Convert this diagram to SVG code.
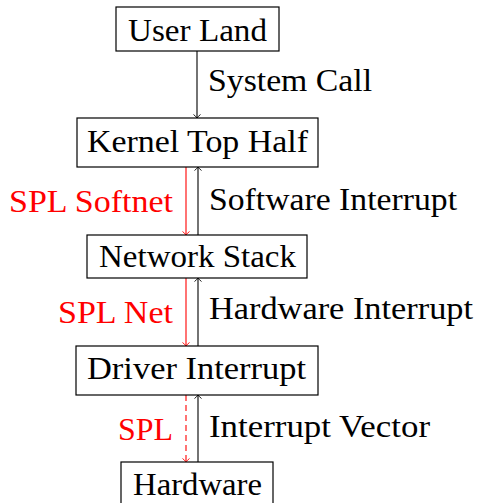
<svg xmlns="http://www.w3.org/2000/svg" width="477" height="503" viewBox="0 0 477 503">
<defs>
<marker id="ak" markerWidth="10" markerHeight="10" refX="5" refY="5" orient="auto" markerUnits="userSpaceOnUse">
<path d="M1.5,1.5 Q3.5,4 5,5 Q3.5,6 1.5,8.5" fill="none" stroke="#000" stroke-width="0.9"/>
</marker>
<marker id="ar" markerWidth="10" markerHeight="10" refX="5" refY="5" orient="auto" markerUnits="userSpaceOnUse">
<path d="M1.5,1.5 Q3.5,4 5,5 Q3.5,6 1.5,8.5" fill="none" stroke="#ff0000" stroke-width="0.9"/>
</marker>
</defs>
<g id="connectors" fill="none" stroke-width="1.1">
<line stroke="#000" x1="197" y1="51" x2="197" y2="118" marker-end="url(#ak)"/>
<line stroke="#ff0000" x1="186" y1="167" x2="186" y2="235" marker-end="url(#ar)"/>
<line stroke="#000" x1="198" y1="235" x2="198" y2="167" marker-end="url(#ak)"/>
<line stroke="#ff0000" x1="186" y1="278" x2="186" y2="346" marker-end="url(#ar)"/>
<line stroke="#000" x1="198" y1="346" x2="198" y2="278" marker-end="url(#ak)"/>
<line stroke="#ff0000" stroke-dasharray="6 4" x1="186" y1="395" x2="186" y2="462" marker-end="url(#ar)"/>
<line stroke="#000" x1="198" y1="462" x2="198" y2="395" marker-end="url(#ak)"/>
</g>
<g id="labels" stroke="none">
<text fill="#000" font-family="Liberation Serif" font-size="32" x="208" y="91" textLength="164" lengthAdjust="spacingAndGlyphs">System Call</text>
<text fill="#ff0000" font-family="Liberation Serif" font-size="32" x="9" y="212" textLength="164" lengthAdjust="spacingAndGlyphs">SPL Softnet</text>
<text fill="#000" font-family="Liberation Serif" font-size="32" x="209" y="210" textLength="248" lengthAdjust="spacingAndGlyphs">Software Interrupt</text>
<text fill="#ff0000" font-family="Liberation Serif" font-size="32" x="58" y="323" textLength="115" lengthAdjust="spacingAndGlyphs">SPL Net</text>
<text fill="#000" font-family="Liberation Serif" font-size="32" x="209" y="319" textLength="264" lengthAdjust="spacingAndGlyphs">Hardware Interrupt</text>
<text fill="#ff0000" font-family="Liberation Serif" font-size="32" x="118" y="440" textLength="55" lengthAdjust="spacingAndGlyphs">SPL</text>
<text fill="#000" font-family="Liberation Serif" font-size="32" x="209" y="437" textLength="221" lengthAdjust="spacingAndGlyphs">Interrupt Vector</text>
</g>
<g id="user-land">
<rect fill="#fff" stroke="#000" stroke-width="1.2" x="116" y="7" width="163" height="44"/>
<text fill="#000" font-family="Liberation Serif" font-size="32" x="128" y="41" textLength="139" lengthAdjust="spacingAndGlyphs">User Land</text>
</g>
<g id="kernel-top-half">
<rect fill="#fff" stroke="#000" stroke-width="1.2" x="77" y="118" width="241" height="49"/>
<text fill="#000" font-family="Liberation Serif" font-size="32" x="87" y="152" textLength="221" lengthAdjust="spacingAndGlyphs">Kernel Top Half</text>
</g>
<g id="network-stack">
<rect fill="#fff" stroke="#000" stroke-width="1.2" x="87" y="235" width="220" height="43"/>
<text fill="#000" font-family="Liberation Serif" font-size="32" x="99" y="267" textLength="197" lengthAdjust="spacingAndGlyphs">Network Stack</text>
</g>
<g id="driver-interrupt">
<rect fill="#fff" stroke="#000" stroke-width="1.2" x="76" y="346" width="242" height="49"/>
<text fill="#000" font-family="Liberation Serif" font-size="32" x="87" y="379" textLength="219" lengthAdjust="spacingAndGlyphs">Driver Interrupt</text>
</g>
<g id="hardware">
<rect fill="#fff" stroke="#000" stroke-width="1.2" x="121" y="462" width="152" height="50"/>
<text fill="#000" font-family="Liberation Serif" font-size="32" x="133" y="495" textLength="129" lengthAdjust="spacingAndGlyphs">Hardware</text>
</g>
</svg>
